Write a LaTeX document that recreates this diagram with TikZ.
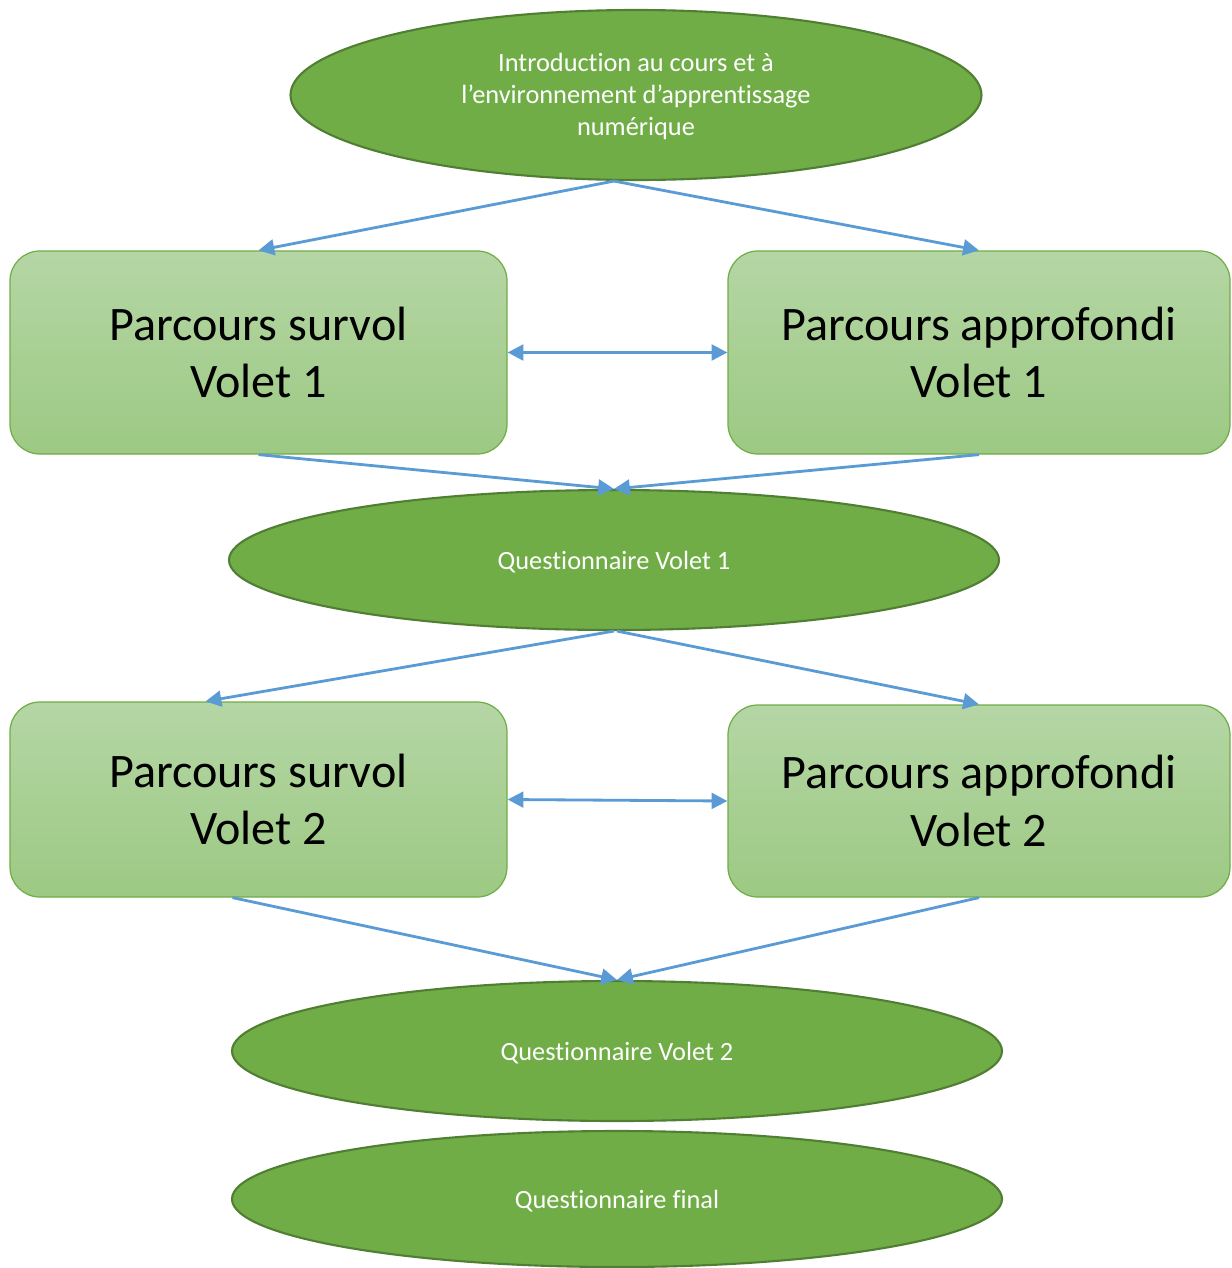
\documentclass[tikz,border=0pt]{standalone}
\usepackage{fontspec}
\setmainfont{Carlito}[RawFeature=-liga]
\usetikzlibrary{shapes.geometric,arrows.meta}

\definecolor{ovalgreen}{HTML}{70AD47}
\definecolor{ovaledge}{HTML}{507E32}
\definecolor{boxtop}{HTML}{B5D6A5}
\definecolor{boxbottom}{HTML}{9CC983}
\definecolor{linkblue}{HTML}{5B9BD5}

% lower a text a little without changing its size
\newcommand{\lowtext}[1]{\raisebox{-1.1pt}[\height][\depth]{#1}}

\tikzset{
  oval/.style={ellipse, fill=ovalgreen, draw=ovaledge, line width=1.2pt, text=white,
    font=\fontsize{15}{18.2}\selectfont, align=center, inner sep=0pt},
  track/.style={rectangle, rounded corners=17pt, top color=boxtop, bottom color=boxbottom,
    draw=ovalgreen, line width=0.7pt, align=center, inner sep=0pt,
    font=\fontsize{27.4}{32.5}\selectfont},
  link/.style={draw=linkblue, line width=1.6pt, -{Triangle[length=9pt,width=9pt]}},
  twoway/.style={link, {Triangle[length=9pt,width=9pt]}-{Triangle[length=9pt,width=9pt]}}
}

\begin{document}
\begin{tikzpicture}[x=0.02cm, y=-0.02cm]

    \def\px{0.02cm}% one pixel of the page
    \def\boxw{497}% track width
    \def\boxwide{502}
    \def\ovalw{770}% questionnaire width
    \def\ovalh{140}

    \useasboundingbox (0,0) rectangle (1231,1268);

    % Introduction
    \node[oval, minimum width=691*\px, minimum height=170*\px] (intro) at (636,95)
        {\lowtext{\begin{tabular}{@{}c@{}}Introduction au cours et à\\l’environnement d’apprentissage\\numérique\end{tabular}}};

    % Volet 1
    \node[track, minimum width=\boxw*\px, minimum height=203*\px] (survolA) at (258.5,352.5)
        {Parcours survol\\Volet 1};
    \node[track, minimum width=\boxwide*\px, minimum height=203*\px] (approA) at (979,352.5)
        {Parcours approfondi\\Volet 1};
    \node[oval, minimum width=\ovalw*\px, minimum height=\ovalh*\px] (quizA) at (614,560)
        {\lowtext{Questionnaire Volet 1}};

    % Volet 2
    \node[track, minimum width=\boxw*\px, minimum height=195*\px] (survolB) at (258.5,799.5)
        {Parcours survol\\Volet 2};
    \node[track, minimum width=\boxwide*\px, minimum height=192*\px] (approB) at (979,801)
        {Parcours approfondi\\Volet 2};
    \node[oval, minimum width=\ovalw*\px, minimum height=\ovalh*\px] (quizB) at (617,1051)
        {\lowtext{Questionnaire Volet 2}};

    % Final
    \node[oval, minimum width=\ovalw*\px, minimum height=136*\px] (quizC) at (617,1199)
        {\lowtext{Questionnaire final}};

    % Connectors
    \draw[link] ([xshift=-22*\px]intro.south) -- (survolA.north);
    \draw[link] ([xshift=-22*\px]intro.south) -- (approA.north);
    \draw[twoway] (survolA.east) -- (approA.west);
    \draw[link] (survolA.south) -- (quizA.north);
    \draw[link] (approA.south) -- (quizA.north);

    \draw[link] (quizA.south) -- ([xshift=-53*\px]survolB.north);
    \draw[link] ([xshift=3*\px]quizA.south) -- (approB.north);
    \draw[twoway] (survolB.east) -- (approB.west);
    \draw[link] ([xshift=-26*\px]survolB.south) -- (quizB.north);
    \draw[link] (approB.south) -- (quizB.north);

\end{tikzpicture}
\end{document}
